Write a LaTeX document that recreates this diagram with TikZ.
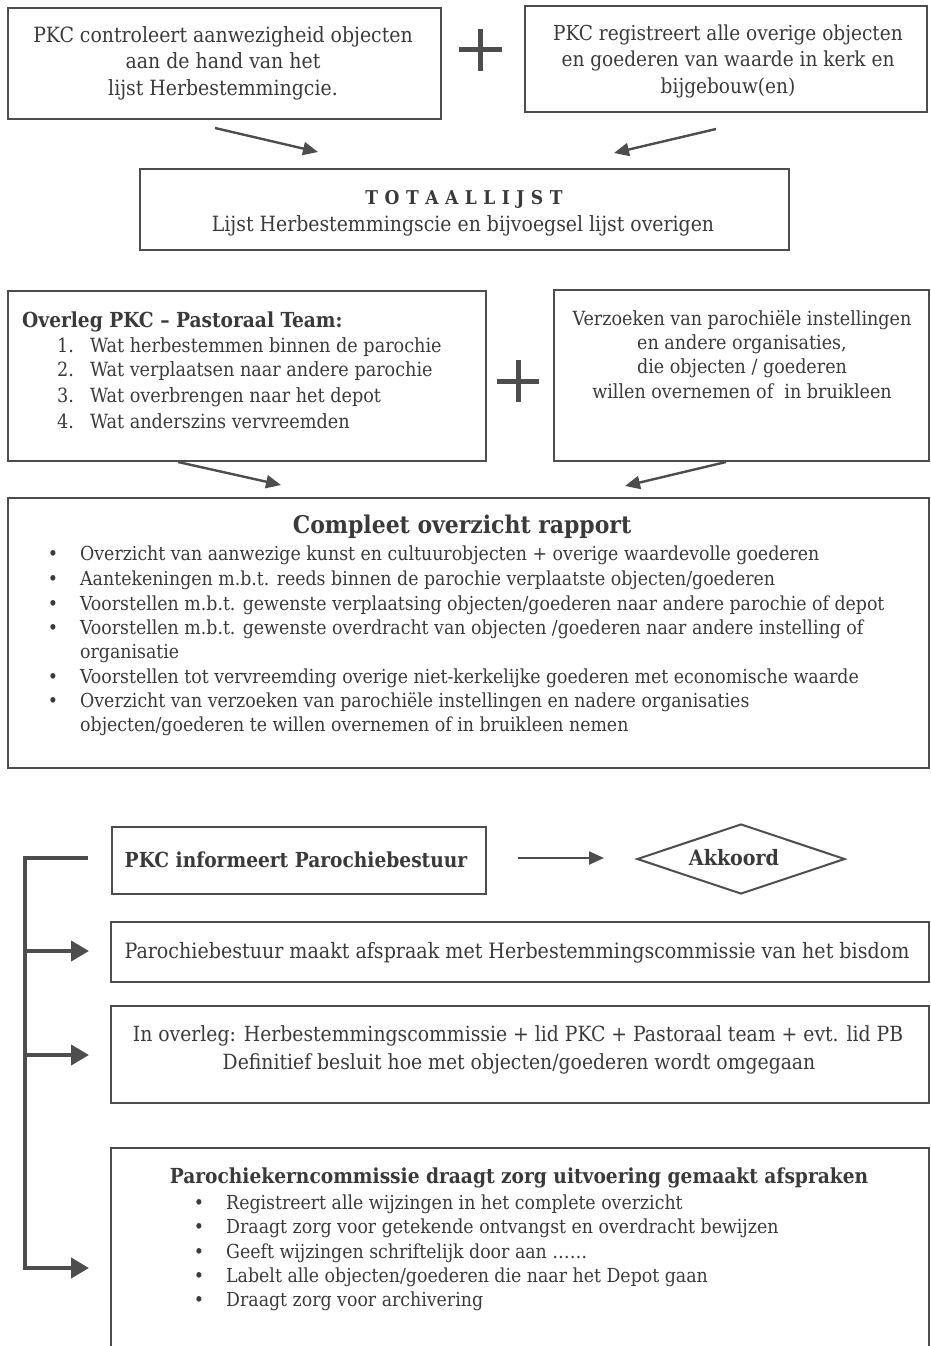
\documentclass[tikz,border=0pt]{standalone}
\usepackage{fontspec}
\setmainfont{DejaVu Serif Condensed}
\usetikzlibrary{arrows.meta,shapes.geometric}
\definecolor{lc}{HTML}{4D4D4D}
\definecolor{tc}{HTML}{3A3A3A}
\newcommand\fsz[1]{\fontsize{#1}{24}\selectfont}
\newcommand\hs{\hspace{6.5pt}}
\begin{document}
\begin{tikzpicture}[x=1pt,y=-1pt,
  box/.style={draw=lc, line width=1.6pt, anchor=north west, inner sep=0pt},
  tx/.style={text=tc, inner sep=0pt, anchor=mid, yshift=-5pt},
  txl/.style={text=tc, inner sep=0pt, anchor=mid west, yshift=-5pt},
  arr/.style={draw=lc, line width=2.4pt, -{Triangle[length=15pt,width=13pt]}},
  brarr/.style={draw=lc, line width=4pt, -{Triangle[length=18pt,width=20pt]}},
  plus/.style={draw=lc, line width=5pt},
  brk/.style={draw=lc, line width=4pt}
]
\useasboundingbox (0,0) rectangle (931,1346);
\clip (0,0) rectangle (931,1346);
% boxes
\node[box, minimum width=433, minimum height=111] (bA) at (7,7) {};
\node[box, minimum width=402, minimum height=106] (bB) at (524,5) {};
\node[box, minimum width=649, minimum height=81] (bT) at (139,168) {};
\node[box, minimum width=478, minimum height=170] (bO) at (7,290) {};
\node[box, minimum width=375, minimum height=171] (bV) at (553,289) {};
\node[box, minimum width=921, minimum height=270] (bC) at (7,497) {};
\node[box, minimum width=374, minimum height=67] (bP) at (111,826) {};
\node[diamond, draw=lc, line width=2pt, minimum width=208, minimum height=70, inner sep=0pt] (dk) at (741,859) {};
\node[box, minimum width=818, minimum height=60] (bPB) at (110,921) {};
\node[box, minimum width=818, minimum height=97] (bIO) at (110,1005) {};
\node[box, minimum width=818, minimum height=260] (bPK) at (110,1147) {};
% plus signs
\draw[plus] (459,50) -- (502,50) (480.5,29) -- (480.5,71);
\draw[plus] (497,381) -- (539,381) (518,360) -- (518,402);
% texts box A
\node[tx, font=\fsz{21}] (tA1) at (223,35) {PKC controleert aanwezigheid objecten};
\node[tx, font=\fsz{21}] (tA2) at (223,61) {aan de hand van het};
\node[tx, font=\fsz{21}] (tA3) at (223,88) {lijst Herbestemmingcie.};
% box B
\node[tx, font=\fsz{20.6}] (tB1) at (728,33) {PKC registreert alle overige objecten};
\node[tx, font=\fsz{20.6}] (tB2) at (728,59) {en goederen van waarde in kerk en};
\node[tx, font=\fsz{20.6}] (tB3) at (728,86) {bijgebouw(en)};
% totaal
\node[tx, font=\fsz{19}\bfseries] (tT1) at (464,197) {T\hs O\hs T\hs A\hs A\hs L\hs L\hs I\hs J\hs S\hs T};
\node[tx, font=\fsz{21}] (tT2) at (463,224) {Lijst Herbestemmingscie en bijvoegsel lijst overigen};
% overleg
\node[txl, font=\fsz{20.7}\bfseries] (tO0) at (22,320) {Overleg PKC – Pastoraal Team:};
\node[txl, font=\fsz{19.6}] (tO1n) at (57,345) {1.};
\node[txl, font=\fsz{19.6}] (tO1) at (90,345) {Wat herbestemmen binnen de parochie};
\node[txl, font=\fsz{19.6}] (tO2n) at (57,369) {2.};
\node[txl, font=\fsz{19.6}] (tO2) at (90,369) {Wat verplaatsen naar andere parochie};
\node[txl, font=\fsz{19.6}] (tO3n) at (57,395) {3.};
\node[txl, font=\fsz{19.6}] (tO3) at (90,395) {Wat overbrengen naar het depot};
\node[txl, font=\fsz{19.6}] (tO4n) at (57,421) {4.};
\node[txl, font=\fsz{19.6}] (tO4) at (90,421) {Wat anderszins vervreemden};
% verzoeken
\node[tx, font=\fsz{19.5}] (tV1) at (742,318) {Verzoeken van parochiële instellingen};
\node[tx, font=\fsz{19.5}] (tV2) at (742,342) {en andere organisaties,};
\node[tx, font=\fsz{19.5}] (tV3) at (742,366) {die objecten / goederen};
\node[tx, font=\fsz{19.5}] (tV4) at (742,391) {willen overnemen of\ \ in bruikleen};
% compleet
\node[tx, font=\fsz{24.4}\bfseries] (tC0) at (462,526) {Compleet overzicht rapport};
\foreach \yy/\nm in {553/c1,578/c2,603/c3,627/c4,676/c5,700/c6}
  \node[tx, font=\fsz{19.3}] (\nm b) at (53,\yy) {•};
\node[txl, font=\fsz{19.3}] (tC1) at (80,553) {Overzicht van aanwezige kunst en cultuurobjecten + overige waardevolle goederen};
\node[txl, font=\fsz{19.3}] (tC2) at (80,578) {Aantekeningen m.b.t. reeds binnen de parochie verplaatste objecten/goederen};
\node[txl, font=\fsz{19.3}] (tC3) at (80,603) {Voorstellen m.b.t. gewenste verplaatsing objecten/goederen naar andere parochie of depot};
\node[txl, font=\fsz{19.3}] (tC4) at (80,627) {Voorstellen m.b.t. gewenste overdracht van objecten /goederen naar andere instelling of};
\node[txl, font=\fsz{19.3}] (tC4b) at (80,651) {organisatie};
\node[txl, font=\fsz{19.3}] (tC5) at (80,676) {Voorstellen tot vervreemding overige niet-kerkelijke goederen met economische waarde};
\node[txl, font=\fsz{19.3}] (tC6) at (80,700) {Overzicht van verzoeken van parochiële instellingen en nadere organisaties};
\node[txl, font=\fsz{19.3}] (tC6b) at (80,724) {objecten/goederen te willen overnemen of in bruikleen nemen};
% bottom part
\node[tx, font=\fsz{20.7}\bfseries] (tP) at (296,860) {PKC informeert Parochiebestuur};
\node[tx, font=\fsz{21.2}\bfseries] (tK) at (734,858) {Akkoord};
\node[tx, font=\fsz{21.2}] (tPB) at (517,951) {Parochiebestuur maakt afspraak met Herbestemmingscommissie van het bisdom};
\node[tx, font=\fsz{20.9}] (tIO1) at (518,1034) {In overleg: Herbestemmingscommissie + lid PKC + Pastoraal team + evt. lid PB};
\node[tx, font=\fsz{20.9}] (tIO2) at (519,1062) {Definitief besluit hoe met objecten/goederen wordt omgegaan};
\node[tx, font=\fsz{20.7}\bfseries] (tK0) at (519,1176) {Parochiekerncommissie draagt zorg uitvoering gemaakt afspraken};
\foreach \yy/\nm in {1202/k1,1226/k2,1251/k3,1275/k4,1299/k5}
  \node[tx, font=\fsz{19.3}] (\nm b) at (199,\yy) {•};
\node[txl, font=\fsz{19.3}] (tK1) at (226,1202) {Registreert alle wijzingen in het complete overzicht};
\node[txl, font=\fsz{19.3}] (tK2) at (226,1226) {Draagt zorg voor getekende ontvangst en overdracht bewijzen};
\node[txl, font=\fsz{19.3}] (tK3) at (226,1251) {Geeft wijzingen schriftelijk door aan \dots\dots};
\node[txl, font=\fsz{19.3}] (tK4) at (226,1275) {Labelt alle objecten/goederen die naar het Depot gaan};
\node[txl, font=\fsz{19.3}] (tK5) at (226,1299) {Draagt zorg voor archivering};
% arrows
\coordinate (a1s) at (215,128); \coordinate (a1e) at (318,152);
\coordinate (a2s) at (716,129); \coordinate (a2e) at (614,153);
\coordinate (a3s) at (178,462); \coordinate (a3e) at (281,485);
\coordinate (a4s) at (726,462); \coordinate (a4e) at (625,486);
\coordinate (a5s) at (518,858); \coordinate (a5e) at (604,858);
\draw[arr] (a1s) -- (a1e);
\draw[arr] (a2s) -- (a2e);
\draw[arr] (a3s) -- (a3e);
\draw[arr] (a4s) -- (a4e);
\draw[arr] (a5s) -- (a5e);
% bracket
\coordinate (k0) at (88,858); \coordinate (k1) at (25,858);
\coordinate (k2) at (25,1268); \coordinate (k3) at (89,1268);
\coordinate (m1) at (25,951); \coordinate (m1e) at (89,951);
\coordinate (m2) at (25,1055); \coordinate (m2e) at (89,1055);
\draw[brarr, line join=miter] (k0) -- (k1) -- (k2) -- (k3);
\draw[brarr] (m1) -- (m1e);
\draw[brarr] (m2) -- (m2e);
\end{tikzpicture}
\end{document}
